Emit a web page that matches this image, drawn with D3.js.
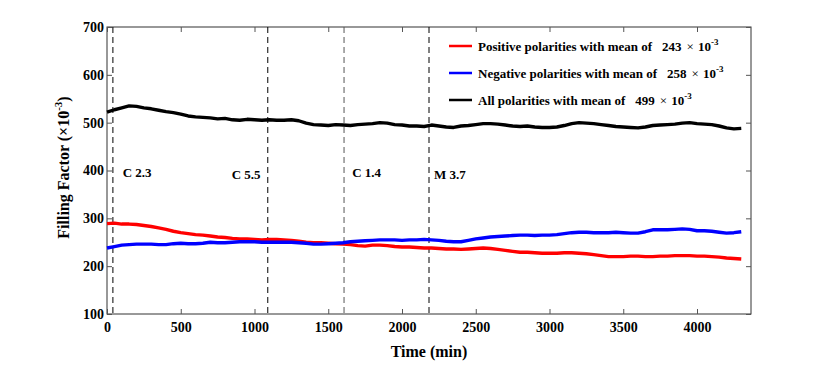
<!DOCTYPE html>
<html><head><meta charset="utf-8">
<script src="https://cdn.jsdelivr.net/npm/d3@7"></script>
<style>
body{margin:0;background:#fff;}
svg{display:block;font-family:"Liberation Serif","Times New Roman",serif;font-weight:bold;}
</style></head>
<body><svg id="chart" width="830" height="368"></svg>
<script>
const times = d3.range(0, 4301, 50);
const allValues = [522,527,531,535,534,531,529,526,523,521,
  518,514,512,511,510,508,509,506,505,507,
  506,505,506,505,505,506,504,499,496,495,
  494,496,495,494,496,497,498,500,499,496,
  495,493,493,492,495,493,491,490,493,494,
  496,498,498,497,495,493,492,493,491,490,
  490,491,494,498,500,499,498,496,494,492,
  491,490,489,491,494,495,496,497,499,500,
  498,497,496,493,489,487,488];
const positiveValues = [289,290,288,288,287,285,283,280,277,273,
  270,268,266,265,263,261,260,258,257,257,
  256,255,256,256,255,254,252,250,249,249,
  248,247,246,245,243,242,244,244,243,241,
  240,240,239,238,238,237,236,236,235,236,
  237,238,237,235,233,231,229,229,228,227,
  227,227,228,228,227,226,224,222,220,220,
  220,221,221,220,220,221,221,222,222,222,
  221,221,220,219,217,216,215];
const negativeValues = [238,241,244,245,246,246,246,245,245,247,
  248,247,247,248,250,249,249,250,251,251,
  251,250,250,250,250,250,249,248,246,246,
  247,248,249,251,252,253,254,255,255,255,
  254,255,255,256,255,254,252,251,251,254,
  257,259,261,262,263,264,265,265,264,265,
  265,266,268,270,271,271,270,270,270,271,
  270,269,269,272,276,276,276,277,278,277,
  274,274,273,271,269,270,272];
const seriesNames = ["Positive polarities with mean of", "Negative polarities with mean of", "All polarities with mean of"];
const seriesMeans = ["243", "258", "499"];
const seriesColors = ["#ff0000", "#0000ff", "#000000"];
const eventTimes = [40, 1090, 1607, 2183];
const eventLabels = ["C 2.3", "C 5.5", "C 1.4", "M 3.7"];
const eventLabelTimes = [106, 845, 1662, 2217];
const eventLabelValues = [386, 382, 387, 382];
const eventColors = ["#000", "#000", "#555", "#000"];
const xTicks = d3.range(0, 4001, 500);
const yTicks = d3.range(100, 701, 100);

const svg = d3.select("#chart");
const m = {l:107, t:27, r:751, b:314};
const x = d3.scaleLinear().domain([0, 4366]).range([m.l, m.r]);
const y = d3.scaleLinear().domain([100, 700]).range([m.b, m.t]);

svg.append("rect").attr("x", m.l).attr("y", m.t).attr("width", m.r - m.l).attr("height", m.b - m.t)
  .attr("fill", "none").attr("stroke", "#333").attr("stroke-width", 1);

const tl = 5;
const axB = svg.append("g").attr("transform", `translate(0,${m.b})`)
  .call(d3.axisBottom(x).tickValues(xTicks).tickSize(-tl).tickPadding(8).tickFormat(d3.format("d")));
const axT = svg.append("g").attr("transform", `translate(0,${m.t})`)
  .call(d3.axisTop(x).tickValues(xTicks).tickSize(-tl).tickFormat(""));
const axL = svg.append("g").attr("transform", `translate(${m.l},0)`)
  .call(d3.axisLeft(y).tickValues(yTicks).tickSize(-tl).tickPadding(3).tickFormat(d3.format("d")));
const axR = svg.append("g").attr("transform", `translate(${m.r},0)`)
  .call(d3.axisRight(y).tickValues(yTicks).tickSize(-tl).tickFormat(""));
[axB, axT, axL, axR].forEach(a => {
  a.select(".domain").remove();
  a.selectAll(".tick line").attr("stroke", "#555");
  a.selectAll("text").attr("font-family", "Liberation Serif").attr("font-weight", "bold")
    .attr("font-size", 14).attr("fill", "#000");
});
axB.selectAll("text").attr("dy", "0.71em");

eventTimes.forEach((t, i) => {
  svg.append("line").attr("x1", x(t)).attr("x2", x(t)).attr("y1", m.t).attr("y2", m.b)
    .attr("stroke", eventColors[i]).attr("stroke-width", 1).attr("stroke-dasharray", "6,4");
  svg.append("text").attr("x", x(eventLabelTimes[i])).attr("y", y(eventLabelValues[i]))
    .attr("font-size", 13).text(eventLabels[i]);
});

const line = d3.line().x((d, i) => x(times[i])).y(d => y(d));
[positiveValues, negativeValues, allValues].forEach((vals, i) => {
  svg.append("path").datum(vals).attr("d", line).attr("fill", "none")
    .attr("stroke", seriesColors[i]).attr("stroke-width", 3.4).attr("stroke-linejoin", "round");
});

const legY = [46, 73, 100];
seriesNames.forEach((n, i) => {
  svg.append("line").attr("x1", 449).attr("x2", 472).attr("y1", legY[i]).attr("y2", legY[i])
    .attr("stroke", seriesColors[i]).attr("stroke-width", 2.5);
  const t = svg.append("text").attr("x", 478).attr("y", legY[i] + 4.5).attr("font-size", 13);
  t.append("tspan").text(n);
  t.append("tspan").attr("dx", 10).text(seriesMeans[i]);
  t.append("tspan").attr("dx", 5).attr("font-weight", "normal").text("×");
  t.append("tspan").attr("dx", 4).text("10");
  t.append("tspan").attr("dy", -6).attr("font-size", 9).text("-3");
});

svg.append("text").attr("x", (m.l + m.r) / 2).attr("y", 357).attr("text-anchor", "middle")
  .attr("font-size", 16).text("Time (min)");
const yl = svg.append("text").attr("transform", `translate(69,${(m.t + m.b) / 2 - 3}) rotate(-90)`)
  .attr("text-anchor", "middle").attr("font-size", 16);
yl.append("tspan").text("Filling Factor (×10");
yl.append("tspan").attr("dy", -7).attr("font-size", 11).text("-3");
yl.append("tspan").attr("dy", 7).text(")");
</script></body></html>
